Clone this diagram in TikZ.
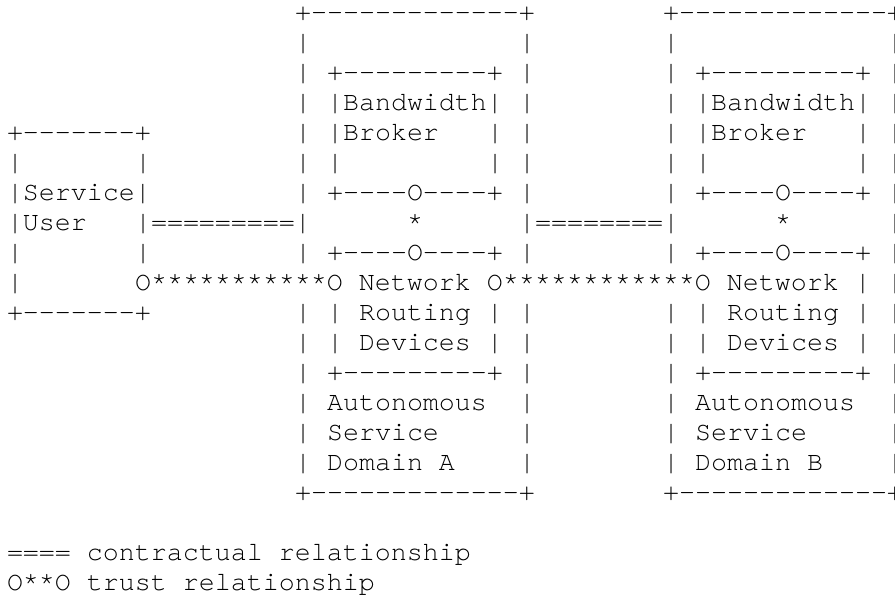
\documentclass[tikz,border=0pt]{standalone}
\usepackage{fontspec}
\setmonofont{TeX Gyre Cursor}
\begin{document}
\begin{tikzpicture}[x=1pt,y=1pt,
  txt/.style={anchor=base west,inner sep=0pt,outer sep=0pt,
    font=\ttfamily\fontsize{13.333pt}{15pt}\selectfont}]
\useasboundingbox (0,0) rectangle (447.5,-298.5);
\clip (0,0) rectangle (447.5,-298.5);
\newcommand\asc[4]{\node[txt] (#1) at ({3.5+8*#2},{-10.3-15*#3}) {#4};}
% outer domain boxes: top and bottom edges
\asc{atop}{18}{0}{+-------------+}
\asc{btop}{41}{0}{+-------------+}
\asc{abot}{18}{16}{+-------------+}
\asc{bbot}{41}{16}{+-------------+}
% outer domain box sides
\foreach \r in {1,...,6,8,10,11,...,15}{
  \asc{aL\r}{18}{\r}{|}
  \asc{aR\r}{32}{\r}{|}
  \asc{bL\r}{41}{\r}{|}
}
\foreach \r in {1,...,15}{\asc{bR\r}{55}{\r}{|}}
% bandwidth brokers
\asc{bbAtop}{20}{2}{+---------+}
\asc{bbBtop}{43}{2}{+---------+}
\asc{bbA1}{20}{3}{|Bandwidth|}
\asc{bbB1}{43}{3}{|Bandwidth|}
\asc{bbA2}{20}{4}{|Broker}
\asc{bbA2r}{30}{4}{|}
\asc{bbB2}{43}{4}{|Broker}
\asc{bbB2r}{53}{4}{|}
\asc{bbA3l}{20}{5}{|}
\asc{bbA3r}{30}{5}{|}
\asc{bbB3l}{43}{5}{|}
\asc{bbB3r}{53}{5}{|}
\asc{bbAbot}{20}{6}{+----O----+}
\asc{bbBbot}{43}{6}{+----O----+}
\asc{starA}{25}{7}{*}
\asc{starB}{48}{7}{*}
% network routing devices
\asc{nrAtop}{20}{8}{+----O----+}
\asc{nrBtop}{43}{8}{+----O----+}
\asc{trust}{8}{9}{O***********O Network O************O Network |}
\asc{nrA1}{20}{10}{| Routing |}
\asc{nrB1}{43}{10}{| Routing |}
\asc{nrA2}{20}{11}{| Devices |}
\asc{nrB2}{43}{11}{| Devices |}
\asc{nrAbot}{20}{12}{+---------+}
\asc{nrBbot}{43}{12}{+---------+}
% domain labels
\asc{dA1}{20}{13}{Autonomous}
\asc{dA2}{20}{14}{Service}
\asc{dA3}{20}{15}{Domain A}
\asc{dB1}{43}{13}{Autonomous}
\asc{dB2}{43}{14}{Service}
\asc{dB3}{43}{15}{Domain B}
% service user
\asc{sutop}{0}{4}{+-------+}
\asc{su1l}{0}{5}{|}
\asc{su1r}{8}{5}{|}
\asc{su2}{0}{6}{|Service|}
\asc{su3}{0}{7}{|User}
\asc{contrA}{8}{7}{|=========|}
\asc{contrB}{32}{7}{|========|}
\asc{su4l}{0}{8}{|}
\asc{su4r}{8}{8}{|}
\asc{su5l}{0}{9}{|}
\asc{subot}{0}{10}{+-------+}
% legend
\asc{leg1}{0}{18}{==== contractual relationship}
\asc{leg2}{0}{19}{O**O trust relationship}
\end{tikzpicture}
\end{document}
